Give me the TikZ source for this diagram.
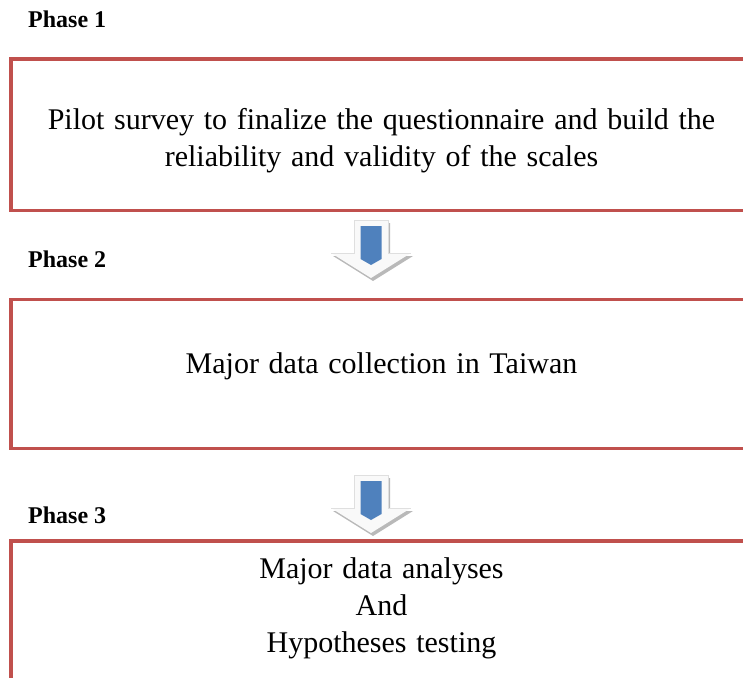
\documentclass[tikz,border=0pt]{standalone}
\usepackage{fontspec}
\setmainfont{Liberation Serif}
\definecolor{boxred}{HTML}{C0504D}
\definecolor{arrowblue}{HTML}{4F81BD}
\newcommand\mywidespaces{\spaceskip=9.7pt\relax}
\begin{document}
\begin{tikzpicture}[x=1pt,y=-1pt,
  phasebox/.style={draw=boxred, line width=3.5pt, minimum width=741pt, inner sep=0pt},
  phaselabel/.style={anchor=base west, font=\fontsize{24}{28}\selectfont\bfseries, inner sep=0pt},
  maintext/.style={align=center, font=\fontsize{30}{37}\selectfont\mywidespaces, inner sep=0pt},
  blockarrow/.pic={
    \fill[gray!55] (-38,36) -- (-17,36) -- (-17,3) -- (19,3) -- (19,36) -- (42,36) -- (2,61) -- cycle;
    \fill[gray!5] (-40,33) -- (-17,33) -- (-17,0) -- (17,0) -- (17,33) -- (40,33) -- (0,58) -- cycle;
    \draw[gray!25, line width=0.6pt] (-40,33) -- (-17,33) -- (-17,0) -- (17,0) -- (17,33) -- (40,33);
    \fill[arrowblue] (-10.5,6) -- (10.5,6) -- (10.5,39) -- (0,45) -- (-10.5,39) -- cycle;
  }
]
\useasboundingbox (0,0) rectangle (743,677);
\clip (0,0) rectangle (743,677);

\node[phasebox, minimum height=151.5pt] (box1) at (381.5,134.75) {};
\node[phasebox, minimum height=149pt] (box2) at (381.5,374) {};
\node[phasebox, minimum height=179pt] (box3) at (381.5,630.5) {};

\node[phaselabel] (p1) at (28,28) {Phase 1};
\node[phaselabel] (p2) at (28,267) {Phase 2};
\node[phaselabel] (p3) at (28,523) {Phase 3};

\node[maintext, anchor=base] (t1) at (381.5,166) {Pilot survey to finalize the questionnaire and build the\\reliability and validity of the scales};
\node[maintext, anchor=base] (t2) at (381.5,373) {Major data collection in Taiwan};
\node[maintext, anchor=base] (t3) at (381.5,652) {Major data analyses\\And\\Hypotheses testing};

\pic at (371,220) {blockarrow};
\pic at (371,475) {blockarrow};
\end{tikzpicture}
\end{document}
